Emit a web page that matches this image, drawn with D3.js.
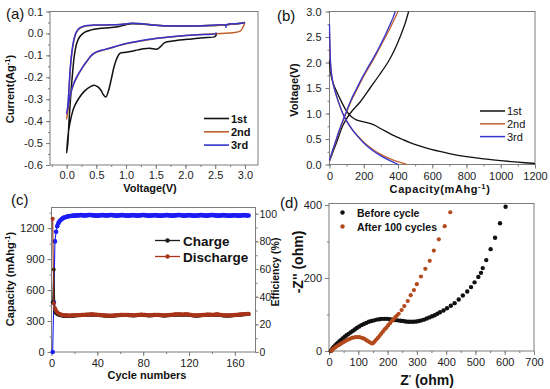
<!DOCTYPE html>
<html>
<head>
<meta charset="utf-8">
<script src="https://cdn.jsdelivr.net/npm/d3@7/dist/d3.min.js"></script>
<style>
body { margin: 0; background: #fff; }
svg { display: block; }
</style>
</head>
<body>
<svg id="fig" width="550" height="389"></svg>
<script>
// ---- (a) CV curves, [voltage, current] ----
var cv1st = [[2.52,-0.002],[2.5,-0.014],[2.3,-0.02],[2.1,-0.025],[1.9,-0.03],[1.75,-0.036],[1.65,-0.042],[1.58,-0.06],[1.52,-0.072],[1.4,-0.068],[1.3,-0.07],[1.2,-0.075],[1.1,-0.081],[1.0,-0.086],[0.9,-0.09],[0.85,-0.11],[0.8,-0.15],[0.75,-0.21],[0.7,-0.265],[0.66,-0.29],[0.62,-0.28],[0.58,-0.26],[0.52,-0.243],[0.46,-0.236],[0.4,-0.243],[0.3,-0.263],[0.2,-0.298],[0.12,-0.34],[0.07,-0.39],[0.03,-0.45],[0.0,-0.545],
  [0.02,-0.5],[0.04,-0.4],[0.07,-0.28],[0.1,-0.18],[0.13,-0.1],[0.17,-0.045],[0.22,-0.015],[0.3,0.005],[0.4,0.015],[0.55,0.022],[0.75,0.027],[0.9,0.033],[1.0,0.04],[1.1,0.044],[1.3,0.042],[1.5,0.037],[1.8,0.034],[2.1,0.034],[2.4,0.036],[2.7,0.04],[2.9,0.045],[3.0,0.05]];
var cv2nd = [[3.0,0.05],[2.97,0.03],[2.92,0.01],[2.8,0.003],[2.6,0.0],[2.4,-0.003],[2.2,-0.006],[2.0,-0.01],[1.8,-0.015],[1.6,-0.02],[1.4,-0.028],[1.2,-0.037],[1.0,-0.047],[0.85,-0.058],[0.7,-0.07],[0.6,-0.077],[0.5,-0.086],[0.42,-0.1],[0.34,-0.128],[0.28,-0.15],[0.22,-0.176],[0.16,-0.206],[0.11,-0.237],[0.07,-0.272],[0.04,-0.315],[0.0,-0.39],
  [0.02,-0.34],[0.04,-0.26],[0.06,-0.17],[0.09,-0.085],[0.12,-0.035],[0.16,0.002],[0.22,0.023],[0.3,0.033],[0.45,0.037],[0.7,0.039],[0.9,0.041],[1.1,0.046],[1.3,0.043],[1.5,0.037],[1.8,0.034],[2.1,0.034],[2.4,0.036],[2.7,0.04],[2.9,0.045],[3.0,0.05]];
var cv3rd = [[2.52,0.004],[2.5,-0.002],[2.2,-0.006],[2.0,-0.01],[1.8,-0.014],[1.6,-0.02],[1.4,-0.027],[1.2,-0.036],[1.0,-0.046],[0.85,-0.057],[0.7,-0.069],[0.6,-0.076],[0.5,-0.084],[0.42,-0.099],[0.34,-0.127],[0.28,-0.149],[0.22,-0.175],[0.16,-0.204],[0.11,-0.235],[0.07,-0.27],[0.04,-0.31],[0.0,-0.365],
  [0.02,-0.33],[0.04,-0.25],[0.06,-0.16],[0.09,-0.08],[0.12,-0.03],[0.16,0.005],[0.22,0.025],[0.3,0.034],[0.45,0.038],[0.7,0.039],[0.9,0.041],[1.1,0.046],[1.3,0.043],[1.5,0.037],[1.8,0.034],[2.1,0.034],[2.4,0.036],[2.68,0.038],[2.68,0.028],[2.69,0.04],[2.9,0.045],[3.0,0.05]];

// ---- (b) charge/discharge profiles, [capacity, voltage] ----
var dis1st = [[0,2.05],[5,1.82],[15,1.66],[30,1.52],[60,1.3],[90,1.1],[110,1.0],[130,0.93],[160,0.87],[200,0.835],[240,0.8],[270,0.76],[300,0.7],[340,0.63],[380,0.56],[420,0.5],[470,0.43],[530,0.36],[600,0.29],[700,0.215],[800,0.155],[900,0.11],[1000,0.075],[1100,0.045],[1200,0.02]];
var chg1st = [[0,0.07],[40,0.42],[80,0.78],[120,1.0],[180,1.23],[237,1.5],[290,1.75],[344,2.02],[380,2.25],[412,2.5],[440,2.75],[462,3.0]];
var dis2nd = [[0,2.6],[4,2.1],[10,1.8],[22,1.58],[42,1.34],[62,1.14],[82,0.97],[102,0.84],[132,0.69],[165,0.56],[205,0.42],[255,0.29],[305,0.19],[355,0.11],[405,0.05],[452,0.0]];
var chg2nd = [[0,0.07],[20,0.28],[40,0.48],[60,0.68],[80,0.86],[100,1.03],[130,1.27],[160,1.47],[190,1.67],[220,1.85],[260,2.08],[295,2.3],[330,2.52],[365,2.75],[400,3.0]];
var dis3rd = [[0,2.75],[3,2.3],[8,1.9],[20,1.6],[40,1.35],[60,1.15],[80,0.98],[100,0.85],[130,0.7],[160,0.57],[200,0.42],[250,0.28],[300,0.17],[350,0.08],[402,0.0]];
var chg3rd = [[0,0.08],[20,0.3],[40,0.5],[60,0.7],[80,0.88],[100,1.05],[130,1.3],[160,1.5],[190,1.7],[220,1.88],[255,2.08],[290,2.3],[320,2.5],[350,2.72],[370,2.87],[384,3.0]];

// ---- (c) cycling, one value per cycle ----
var dischargeCap = [1290,470,425,400,385,375,368,364,361,358,356,355,
  354,354,353,353,354,355,355,356,356,357,
  357,358,358,359,360,360,361,362,362,363,
  363,364,364,364,363,363,362,361,360,359,
  358,357,356,355,354,353,353,352,352,352,
  353,353,354,355,356,357,358,359,360,360,
  361,361,360,360,359,358,357,357,356,356,
  357,358,359,360,361,362,362,361,360,359,
  358,357,356,356,357,358,359,360,361,361,
  360,359,358,357,356,355,355,356,357,358,
  359,360,361,362,363,364,364,365,365,364,
  364,363,363,364,365,365,364,363,361,359,
  357,356,355,354,354,355,356,357,358,359,
  360,361,362,362,363,363,362,361,361,362,
  363,364,364,363,361,359,357,356,355,355,
  354,354,355,355,356,357,358,359,360,361,
  362,363,364,365,366,367,368,368,369,369];
var chargeCap = [480,800,392,376,368,362,358,355,353,351,350,349,
  349,348,348,349,350,351,351,352,353,354,
  354,355,356,357,357,358,359,359,360,360,
  361,361,362,361,361,360,359,358,357,356,
  355,354,353,352,351,350,350,349,349,350,
  350,351,352,353,354,355,356,356,357,357,
  358,358,357,357,356,355,354,354,353,353,
  354,355,356,357,358,359,359,358,357,356,
  355,354,353,353,354,355,356,357,358,358,
  357,356,355,354,353,352,352,353,354,355,
  356,357,358,359,360,361,361,362,362,361,
  361,360,360,361,362,362,361,360,358,356,
  354,353,352,351,351,352,353,354,355,356,
  357,358,359,359,360,360,359,358,358,359,
  360,361,361,360,358,356,354,353,352,352,
  351,351,352,352,353,354,355,356,357,358,
  359,360,361,362,363,364,365,365,366,366];
var efficiency = [0,36,80,87,91,93.2,94.6,95.5,96.2,96.8,97.2,97.5,97.8,98.0,
  98.2,98.3,98.4,98.5,98.6,98.6,98.7,98.8,98.8,98.9,
  99.0,99.0,98.9,98.8,98.7,98.8,98.9,99.0,99.1,99.1,
  99.0,98.9,98.8,98.7,98.6,98.6,98.7,98.8,98.9,99.0,
  99.0,98.9,98.8,98.7,98.8,98.9,99.0,99.1,99.0,98.9,
  98.8,98.7,98.6,98.7,98.8,98.9,99.0,99.0,98.9,98.8,
  98.7,98.6,98.6,98.7,98.8,98.9,99.0,98.9,98.8,98.7,
  98.6,98.7,98.8,98.9,99.0,99.1,99.0,98.9,98.8,98.7,
  98.6,98.6,98.7,98.8,98.9,99.0,98.9,98.8,98.7,98.6,
  98.5,98.6,98.7,98.8,98.9,99.0,99.0,98.9,98.8,98.7,
  98.6,98.6,98.7,98.8,98.9,99.0,99.1,99.0,98.9,98.8,
  98.7,98.6,98.7,98.8,98.9,99.0,98.9,98.8,98.7,98.6,
  98.5,98.6,98.7,98.8,98.9,99.0,99.0,98.9,98.8,98.7,
  98.6,98.7,98.8,98.9,99.0,99.1,99.0,98.9,98.8,98.7,
  98.6,98.6,98.7,98.8,98.9,99.0,98.9,98.8,98.7,98.6,
  98.5,98.6,98.7,98.8,98.9,98.9,98.8,98.7,98.6,98.6,
  98.7,98.8,98.9,99.0,98.9,98.8,98.7,98.7];
var cycles = d3.range(1, dischargeCap.length + 1);

// ---- (d) Nyquist, [Z', -Z''] ----
var beforeCycle = [[6,0],[9,3],[12,7],[16,11],[21,15],[26,19],[31,23],[36,27],[42,31],[48,35],[54,39],[60,43],[67,47],[74,51],[81,55],[88,59],[95,63],[103,67],[111,71],[119,74],[127,77],[136,80],[145,82],[154,84],[163,86],[172,87],[181,88],[190,88],[199,88],[208,87],[217,86],[226,85],[235,84],[244,83],[253,82],[262,81],[271,80],[280,80],[289,80],[298,81],[307,82],[316,84],[325,86],[334,89],[343,92],[352,95],[361,98],[370,102],[379,106],[391,111],[403,117],[416,124],[429,131],[443,141],[457,152],[472,163],[485,175],[497,188],[510,203],[519,214],[525,227],[537,249],[552,279],[567,310],[584,350],[603,395]];
var after100 = [[8,0],[11,3],[15,6],[20,9],[25,12],[31,15],[37,18],[43,21],[49,24],[55,27],[61,30],[67,32],[73,34],[79,36],[85,37],[91,38],[97,38],[103,38],[109,37],[115,35],[121,33],[127,30],[133,27],[139,24],[145,21],[150,21],[155,25],[160,30],[166,35],[172,41],[178,47],[184,53],[190,59],[196,64],[202,70],[208,76],[214,82],[220,87],[226,92],[232,97],[238,102],[248,112],[257,123],[269,137],[279,153],[290,167],[300,183],[314,204],[329,225],[344,247],[358,275],[375,306],[395,342],[414,380]];

// ---- tick labels ----
var aXTicks = [0.0,0.5,1.0,1.5,2.0,2.5,3.0];
var aYTicks = [0.1,0.0,-0.1,-0.2,-0.3,-0.4,-0.5,-0.6];
var bXTicks = [0,200,400,600,800,1000,1200];
var bYTicks = [0.0,0.5,1.0,1.5,2.0,2.5,3.0];
var cXTicks = [0,40,80,120,160];
var cYTicks = [0,300,600,900,1200];
var cY2Ticks = [0,20,40,60,80,100];
var dXTicks = [0,100,200,300,400,500,600,700];
var dYTicks = [0,200,400];

var legendCycles = ["1st","2nd","3rd"];
var legendC = ["Charge","Discharge"];
var legendD = ["Before cycle","After 100 cycles"];

var FONT = '"Liberation Sans", Arial, Helvetica, sans-serif';
var frameColor = "#7c7c7c";
var col1 = "#111111", col2 = "#c0602e", col3 = "#3434cc";
var colCharge = "#1a1a1a", colDis = "#a8341a", colEff = "#1c1cf5";
var colAfter = "#b34a1c";

var svg = d3.select("#fig").style("font-family", FONT);

function styleAxis(g, fontSize) {
    g.select(".domain").remove();
    g.selectAll(".tick line").attr("stroke", frameColor);
    g.selectAll("text").attr("font-family", FONT).attr("font-size", fontSize).attr("fill", "#222");
}

function minorTicks(lo, hi, step) {
    // tick positions between majors
    var out = [];
    for (var v = lo; v <= hi + 1e-9; v += step) out.push(+v.toFixed(4));
    return out;
}

// draws frame + bottom and left ticks for one panel
function frame(box, x, y, opt) {
    var g = svg.append("g");
    g.append("rect")
        .attr("x", box.x0).attr("y", box.y0)
        .attr("width", box.x1 - box.x0).attr("height", box.y1 - box.y0)
        .attr("fill", "none").attr("stroke", frameColor).attr("stroke-width", 1);
    var fs = opt.fs || 11;
    g.append("g").attr("transform", "translate(0," + box.y1 + ")")
        .call(d3.axisBottom(x).tickValues(opt.xMinor).tickSize(2).tickFormat(""))
        .call(styleAxis, fs);
    g.append("g").attr("transform", "translate(0," + box.y1 + ")")
        .call(d3.axisBottom(x).tickValues(opt.xMajor).tickSize(4).tickPadding(opt.xPad).tickFormat(opt.xFmt))
        .call(styleAxis, fs);
    g.append("g").attr("transform", "translate(" + box.x0 + ",0)")
        .call(d3.axisLeft(y).tickValues(opt.yMinor).tickSize(2).tickFormat(""))
        .call(styleAxis, fs);
    g.append("g").attr("transform", "translate(" + box.x0 + ",0)")
        .call(d3.axisLeft(y).tickValues(opt.yMajor).tickSize(4).tickPadding(opt.yPad).tickFormat(opt.yFmt))
        .call(styleAxis, fs);
    return g;
}

// text with optional superscript pieces, optionally rotated
function label(x, y, parts, o) {
    o = o || {};
    var t = svg.append("text")
        .attr("x", x).attr("y", y)
        .attr("text-anchor", o.anchor || "middle")
        .attr("font-size", o.size || 11)
        .attr("font-weight", o.bold === false ? "normal" : "bold")
        .attr("fill", "#111");
    if (o.rotate) t.attr("transform", "rotate(-90," + x + "," + y + ")");
    if (o.spacing) t.attr("letter-spacing", o.spacing);
    var lift = 0;
    parts.forEach(function(p) {
        var s = t.append("tspan").text(p.t);
        if (p.sup) { s.attr("dy", -4).attr("font-size", (o.size || 11) * 0.7); lift = 4; }
        else if (lift) { s.attr("dy", lift); lift = 0; }
    });
    return t;
}

function fmt1(d) { return d.toFixed(1); }
function fmt0(d) { return String(d); }

var smooth = d3.curveCatmullRom.alpha(0.5);

// ================= (a) =================
var boxA = {x0: 50, x1: 258, y0: 11.5, y1: 165};
var xA = d3.scaleLinear().domain([-0.28, 3.22]).range([boxA.x0, boxA.x1]);
var yA = d3.scaleLinear().domain([-0.6, 0.1]).range([boxA.y1, boxA.y0]);
frame(boxA, xA, yA, {
    xMajor: aXTicks, xMinor: minorTicks(-0.25, 3.0, 0.25), xFmt: fmt1, xPad: 2,
    yMajor: aYTicks, yMinor: minorTicks(-0.6, 0.1, 0.05), yFmt: fmt1, yPad: 3
});
var lineA = d3.line().x(function(d) { return xA(d[0]); }).y(function(d) { return yA(d[1]); }).curve(smooth);
[[cv1st, col1], [cv2nd, col2], [cv3rd, col3]].forEach(function(s) {
    svg.append("path").datum(s[0]).attr("d", lineA)
        .attr("fill", "none").attr("stroke", s[1]).attr("stroke-width", 1.5);
});
legendCycles.forEach(function(name, i) {
    var yy = 118.5 + i * 13.3;
    svg.append("line").attr("x1", 204).attr("x2", 229).attr("y1", yy).attr("y2", yy)
        .attr("stroke", [col1, col2, col3][i]).attr("stroke-width", 1.6);
    label(231, yy + 4, [{t: name}], {anchor: "start", size: 11});
});
label(14, 89, [{t: "Current(Ag"}, {t: "-1", sup: true}, {t: ")"}], {rotate: true, size: 11});
label(150, 192, [{t: "Voltage(V)"}], {size: 11});
label(6, 19, [{t: "(a)"}], {anchor: "start", size: 15, bold: false});

// ================= (b) =================
var boxB = {x0: 329.5, x1: 535, y0: 11.5, y1: 164.5};
var xB = d3.scaleLinear().domain([0, 1200]).range([boxB.x0, boxB.x1]);
var yB = d3.scaleLinear().domain([0, 3]).range([boxB.y1, boxB.y0]);
frame(boxB, xB, yB, {
    xMajor: bXTicks, xMinor: minorTicks(0, 1200, 100), xFmt: fmt0, xPad: 4,
    yMajor: bYTicks, yMinor: minorTicks(0, 3, 0.25), yFmt: fmt1, yPad: 4
});
var lineB = d3.line().x(function(d) { return xB(d[0]); }).y(function(d) { return yB(d[1]); }).curve(smooth);
[[dis1st, col1], [chg1st, col1], [dis2nd, col2], [chg2nd, col2], [dis3rd, col3], [chg3rd, col3]].forEach(function(s) {
    svg.append("path").datum(s[0]).attr("d", lineB)
        .attr("fill", "none").attr("stroke", s[1]).attr("stroke-width", 1.3);
});
legendCycles.forEach(function(name, i) {
    var yy = 111 + i * 12.8;
    svg.append("line").attr("x1", 480).attr("x2", 505).attr("y1", yy).attr("y2", yy)
        .attr("stroke", [col1, col2, col3][i]).attr("stroke-width", 1.5);
    label(507, yy + 4, [{t: name}], {anchor: "start", size: 11, bold: false});
});
label(298, 90, [{t: "Voltage(V)"}], {rotate: true, size: 11});
label(440, 193, [{t: "Capacity(mAhg"}, {t: "-1", sup: true}, {t: ")"}], {size: 11, spacing: 0.6});
label(277, 21, [{t: "(b)"}], {anchor: "start", size: 15, bold: false});

// ================= (c) =================
var boxC = {x0: 51.5, x1: 255.5, y0: 207.5, y1: 352};
var xC = d3.scaleLinear().domain([0, 178]).range([boxC.x0, boxC.x1]);
var yC = d3.scaleLinear().domain([0, 1400]).range([boxC.y1, boxC.y0]);
var yC2 = d3.scaleLinear().domain([0, 104.5]).range([boxC.y1, boxC.y0]);
frame(boxC, xC, yC, {
    xMajor: cXTicks, xMinor: minorTicks(0, 160, 20), xFmt: fmt0, xPad: 3,
    yMajor: cYTicks, yMinor: minorTicks(0, 1350, 150), yFmt: fmt0, yPad: 3
});
svg.append("g").attr("transform", "translate(" + boxC.x1 + ",0)")
    .call(d3.axisRight(yC2).tickValues(minorTicks(0, 100, 10)).tickSize(2).tickFormat(""))
    .call(styleAxis, 10.5);
svg.append("g").attr("transform", "translate(" + boxC.x1 + ",0)")
    .call(d3.axisRight(yC2).tickValues(cY2Ticks).tickSize(3).tickPadding(1).tickFormat(fmt0))
    .call(styleAxis, 10.5);

function series(vals, yScale, color, lineColor, r) {
    var pts = cycles.map(function(c, i) { return [c, vals[i]]; });
    svg.append("path").datum(pts)
        .attr("d", d3.line().x(function(d) { return xC(d[0]); }).y(function(d) { return yScale(d[1]); }))
        .attr("fill", "none").attr("stroke", lineColor).attr("stroke-width", 1.1);
    svg.append("g").selectAll("circle").data(pts).enter().append("circle")
        .attr("cx", function(d) { return xC(d[0]); })
        .attr("cy", function(d) { return yScale(d[1]); })
        .attr("r", r).attr("fill", color);
}
series(efficiency, yC2, colEff, colEff, 2.3);
series(chargeCap, yC, colCharge, colCharge, 1.9);
series(dischargeCap, yC, colDis, "#8a2a12", 2.1);

legendC.forEach(function(name, i) {
    var yy = 240.5 + i * 16;
    var c = i === 0 ? colCharge : colDis;
    svg.append("line").attr("x1", 155).attr("x2", 180).attr("y1", yy).attr("y2", yy)
        .attr("stroke", c).attr("stroke-width", 1.3);
    svg.append("circle").attr("cx", 167.5).attr("cy", yy).attr("r", 2.2).attr("fill", c);
    label(183, yy + 5, [{t: name}], {anchor: "start", size: 13.5});
});
label(14, 279, [{t: "Capacity (mAhg"}, {t: "-1", sup: true}, {t: ")"}], {rotate: true, size: 11});
label(279, 272, [{t: "Efficiency (%)"}], {rotate: true, size: 10.5});
label(147, 379, [{t: "Cycle numbers"}], {size: 11});
label(11, 205, [{t: "(c)"}], {anchor: "start", size: 15, bold: false});

// ================= (d) =================
var boxD = {x0: 329, x1: 534, y0: 203.5, y1: 351};
var xD = d3.scaleLinear().domain([0, 700]).range([boxD.x0, boxD.x1]);
var yD = d3.scaleLinear().domain([0, 404]).range([boxD.y1, boxD.y0]);
frame(boxD, xD, yD, {
    xMajor: dXTicks, xMinor: minorTicks(0, 700, 50), xFmt: fmt0, xPad: 3,
    yMajor: dYTicks, yMinor: minorTicks(0, 400, 100), yFmt: fmt0, yPad: 3
});
svg.append("g").selectAll("circle").data(beforeCycle).enter().append("circle")
    .attr("cx", function(d) { return xD(d[0]); })
    .attr("cy", function(d) { return yD(d[1]); })
    .attr("r", 2.2).attr("fill", col1);
svg.append("g").selectAll("circle").data(after100).enter().append("circle")
    .attr("cx", function(d) { return xD(d[0]); })
    .attr("cy", function(d) { return yD(d[1]); })
    .attr("r", 2.1).attr("fill", colAfter);
legendD.forEach(function(name, i) {
    var yy = 212.5 + i * 14;
    svg.append("circle").attr("cx", 342.5).attr("cy", yy).attr("r", 2.2).attr("fill", i === 0 ? col1 : colAfter);
    label(357, yy + 4, [{t: name}], {anchor: "start", size: 10.5});
});
label(303, 262, [{t: "-Z'' (ohm)"}], {rotate: true, size: 14});
label(427, 385, [{t: "Z"}, {t: "'", sup: true}, {t: " (ohm)"}], {size: 14});
label(280, 208, [{t: "(d)"}], {anchor: "start", size: 15, bold: false});
</script>
</body>
</html>
